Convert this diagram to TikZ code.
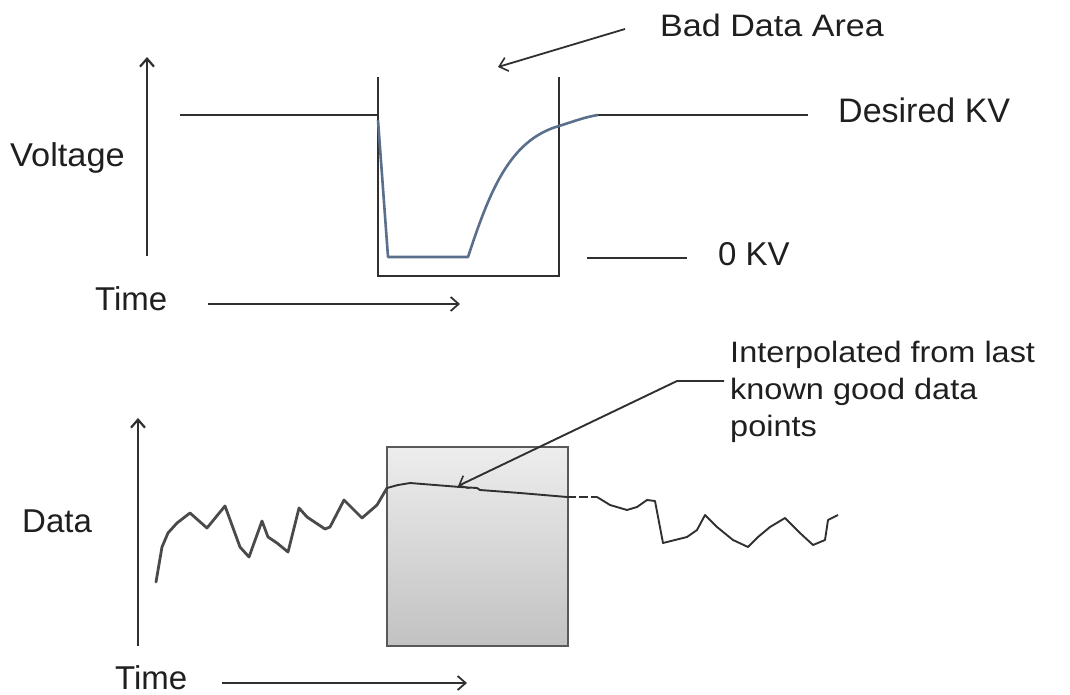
\documentclass[tikz,border=0pt]{standalone}
\usepackage{fontspec}
\setmainfont{Liberation Sans}
\usetikzlibrary{arrows.meta}
\definecolor{ink}{HTML}{303030}
\definecolor{curvec}{HTML}{5A6F8C}
\definecolor{datac}{HTML}{4A4A4A}
\begin{document}
\begin{tikzpicture}[x=1pt,y=-1pt,
  lbl/.style={inner sep=0pt, text=black!88},
  big/.style={font=\fontsize{33}{40}\selectfont},
  axis/.style={draw=ink, line width=2.6pt, -{Straight Barb[length=8pt,width=14pt,line width=2.2pt]}},
  tarrow/.style={draw=ink, line width=2pt, -{Straight Barb[length=8pt,width=14pt,line width=1.8pt]}},
  thin/.style={draw=ink, line width=2.2pt},
  wig/.style={draw=datac, line width=2.8pt, line join=round, line cap=round},
  wigthin/.style={draw=ink, line width=1.9pt, line join=round},
]
\useasboundingbox (0,0) rectangle (1070,695);

% ---------- top panel ----------
\node[lbl,big,anchor=base west,xscale=1.04] (volt) at (10,167) {Voltage};
\node[lbl,big,anchor=base west] (time1) at (95,310) {Time};
\node[lbl,font=\fontsize{34}{40}\selectfont,anchor=base west] (desired) at (838,123) {Desired KV};
\node[lbl,big,anchor=base west] (zero) at (718,265) {0 KV};
\node[lbl,font=\fontsize{31}{36}\selectfont,anchor=base west,xscale=1.1] (bad) at (660,37) {Bad Data Area};

\coordinate (vb) at (147,256);
\coordinate (vt) at (147,57);
\draw[axis] (vb) -- (vt);

\coordinate (t1s) at (208,304);
\coordinate (t1e) at (460,304);
\draw[tarrow] (t1s) -- (t1e);

% bad data box (open top)
\coordinate (bl) at (378,77);
\coordinate (bbl) at (378,276);
\coordinate (bbr) at (559,276);
\coordinate (br) at (559,77);
\draw[thin, line join=miter] (bl) -- (bbl) -- (bbr) -- (br);

% desired level lines
\coordinate (dl1) at (180,115);
\coordinate (dl2) at (378,115);
\draw[thin] (dl1) -- (dl2);
\coordinate (dr1) at (598,115);
\coordinate (dr2) at (808,115);
\draw[thin] (dr1) -- (dr2);

% 0 KV marker line
\coordinate (z1) at (587,258);
\coordinate (z2) at (687,258);
\draw[thin] (z1) -- (z2);

% voltage curve
\draw[curvec, line width=2.6pt, line join=round]
  (378,120) -- (388,257) -- (468,257)
  .. controls (490,190) and (510,140) .. (559,126)
  .. controls (575,121) and (585,117) .. (dr1);

% bad data arrow
\coordinate (bdtip) at (498,67);
\draw[draw=ink, line width=1.8pt, -{Straight Barb[length=8pt,width=14pt,line width=1.6pt]}]
  (625,29) -- (bdtip);

% ---------- bottom panel ----------
\node[lbl,big,anchor=base west] (data) at (22,532) {Data};
\node[lbl,big,anchor=base west] (time2) at (115,689) {Time};
\node[lbl,font=\fontsize{29.5}{37}\selectfont,anchor=north west,align=left,xscale=1.1] (interp) at (730,341)
  {Interpolated from last\\known good data\\points};

\coordinate (db) at (138,646);
\coordinate (dt) at (138,418);
\draw[axis] (db) -- (dt);

\coordinate (t2s) at (222,683);
\coordinate (t2e) at (467,683);
\draw[tarrow] (t2s) -- (t2e);

% shaded box
\shade[top color=gray!14, bottom color=gray!48] (387,447) rectangle (568,646);
\draw[draw=black!65, line width=2pt] (387,447) rectangle (568,646);

% data line
\draw[wig]
  (156,582) -- (162,547) -- (168,533) -- (177,523) -- (190,513) -- (207,528)
  -- (225,506) -- (240,547) -- (249,557) -- (262,521) -- (268,537) -- (277,543)
  -- (288,552) -- (299,508) -- (307,517) -- (325,529) -- (330,527) -- (344,500)
  -- (362,518) -- (377,505) -- (387,488);
\draw[wigthin]
  (387,488) -- (398,485) -- (410,483) -- (435,485) -- (460,487) -- (477,488)
  -- (480,490) -- (520,493) -- (567,497);
\draw[draw=ink, line width=1.9pt, dash pattern=on 9pt off 3pt] (567,497) -- (597,497);
\draw[wigthin]
  (597,497) -- (610,505) -- (627,510) -- (637,507) -- (647,500) -- (655,501)
  -- (663,543) -- (687,537) -- (697,530) -- (705,515) -- (717,527) -- (733,540)
  -- (748,547) -- (758,537) -- (770,527) -- (785,518) -- (800,533) -- (813,545)
  -- (825,540) -- (828,520) -- (838,515);

% interpolated pointer
\coordinate (ip1) at (677,381);
\coordinate (iptip) at (458,486);
\draw[draw=ink, line width=1.9pt, -{Straight Barb[length=8pt,width=14pt,line width=1.6pt]}]
  (interp.north west |- 0,381) ++(-6,0) -- (ip1) -- (iptip);
\end{tikzpicture}
\end{document}
